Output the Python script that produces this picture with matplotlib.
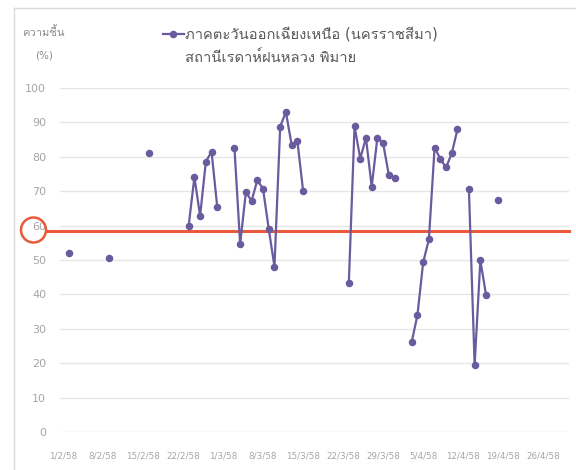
import numpy as np
import pandas as pd
import matplotlib
matplotlib.use('Agg')
import matplotlib.pyplot as plt
from matplotlib import font_manager
from matplotlib.ft2font import FT2Font
from matplotlib.lines import Line2D
from matplotlib.patches import Ellipse


def find_thai_font():
    """ cherche une police installée qui contient les caractères thaï """
    for f in font_manager.fontManager.ttflist:
        try:
            if FT2Font(f.fname).get_char_index(ord('ก')):
                return f.name
        except Exception:
            continue
    return None


thai = find_thai_font()
families = ['DejaVu Sans'] + ([thai] if thai else [])
plt.rcParams['font.family'] = families

# Données : humidité relative (%) par jour, station Phimai
obs_dates = ['2/2/58', '9/2/58', '16/2/58',
             '23/2/58', '24/2/58', '25/2/58', '26/2/58', '27/2/58', '28/2/58',
             '3/3/58', '4/3/58', '5/3/58', '6/3/58', '7/3/58', '8/3/58', '9/3/58',
             '10/3/58', '11/3/58', '12/3/58', '13/3/58', '14/3/58', '15/3/58',
             '23/3/58', '24/3/58', '25/3/58', '26/3/58', '27/3/58', '28/3/58',
             '29/3/58', '30/3/58', '31/3/58',
             '3/4/58', '4/4/58', '5/4/58', '6/4/58', '7/4/58', '8/4/58', '9/4/58',
             '10/4/58', '11/4/58',
             '13/4/58', '14/4/58', '15/4/58', '16/4/58',
             '18/4/58']
humidity = [52.0, 50.5, 81.0,
            60.0, 74.1, 62.8, 78.6, 81.5, 65.3,
            82.6, 54.7, 69.7, 67.2, 73.2, 70.7, 59.0,
            48.1, 88.8, 93.0, 83.5, 84.7, 70.2,
            43.2, 88.9, 79.5, 85.5, 71.3, 85.6,
            83.9, 74.7, 73.7,
            26.2, 34.0, 49.3, 56.0, 82.7, 79.4, 76.9,
            81.0, 88.0,
            70.5, 19.5, 49.9, 39.8,
            67.4]
threshold = 58.5

tick_labels = ['1/2/58', '8/2/58', '15/2/58', '22/2/58', '1/3/58', '8/3/58',
               '15/3/58', '22/3/58', '29/3/58', '5/4/58', '12/4/58', '19/4/58',
               '26/4/58']
first_day, last_day = '1/2/58', '30/4/58'
y_ticks = [0, 10, 20, 30, 40, 50, 60, 70, 80, 90, 100]

series_label = 'ภาคตะวันออกเฉียงเหนือ (นครราชสีมา)'
station_label = 'สถานีเรดาห์ฝนหลวง พิมาย'
y_label = 'ความชื้น'
y_unit = '(%)'


def to_date(s):
    # année bouddhiste 2558 -> 2015
    d, m, y = s.split('/')
    return pd.Timestamp(year=int(y) + 2500 - 543, month=int(m), day=int(d))


# série journalière, les jours manquants restent NaN (coupures de la courbe)
s = pd.Series(humidity, index=[to_date(d) for d in obs_dates])
days = pd.date_range(to_date(first_day), to_date(last_day), freq='D')
s = s.reindex(days)

purple = '#6A5A9E'
grey_txt = '#A6A6A6'
red = '#E85A3A'

fig = plt.figure(figsize=(5.76, 4.70), dpi=100)
fig.patch.set_facecolor('white')
ax = fig.add_axes([60 / 576, 38 / 470, 509 / 576, 344 / 470])

ax.plot(s.index, s.values, color=purple, lw=1.6, marker='o', ms=4.4,
        mec=purple, mfc=purple, zorder=3)

ax.set_ylim(0, 100)
ax.set_yticks(y_ticks)
ax.set_xlim(days[0] - pd.Timedelta(hours=12), days[-1] + pd.Timedelta(hours=12))
ax.set_xticks([to_date(t) for t in tick_labels])
ax.set_xticklabels(tick_labels)
ax.grid(axis='y', color='#E6E6E6', lw=1.0)
ax.set_axisbelow(True)
for sp in ax.spines.values():
    sp.set_visible(False)
ax.tick_params(axis='both', length=0, colors=grey_txt)
ax.tick_params(axis='y', labelsize=8, pad=10)
ax.tick_params(axis='x', labelsize=6.3, pad=14)

# ligne de seuil rouge
ax.axhline(threshold, xmin=-0.024, xmax=1.0, color=red, lw=2.2,
           clip_on=False, zorder=2)
# cercle autour du 60
fig.add_artist(Ellipse((33.5 / 576, 1 - 230 / 470), 25 / 576, 25 / 470,
                       fill=False, ec=red, lw=1.8, transform=fig.transFigure))

# cadre du graphique
fig.add_artist(Line2D([14 / 576, 14 / 576], [0, 1 - 8 / 470], color='#DADADA',
                      lw=1.0, transform=fig.transFigure))
fig.add_artist(Line2D([14 / 576, 1], [1 - 8 / 470, 1 - 8 / 470], color='#DADADA',
                      lw=1.0, transform=fig.transFigure))

# légende
ly = 1 - 34 / 470
fig.add_artist(Line2D([163 / 576, 184 / 576], [ly, ly], color=purple, lw=1.6,
                      transform=fig.transFigure))
fig.add_artist(Line2D([173 / 576], [ly], color=purple, marker='o', ms=4.4,
                      transform=fig.transFigure))
fig.text(185 / 576, ly, series_label, fontsize=10.6, color='#5A5A5A',
         va='center', ha='left')
fig.text(185 / 576, 1 - 58 / 470, station_label, fontsize=10.6, color='#5A5A5A',
         va='center', ha='left')

# titre de l'axe y
fig.text(43 / 576, 1 - 32 / 470, y_label, fontsize=8, color='#8C8C8C',
         ha='center', va='center')
fig.text(44 / 576, 1 - 55 / 470, y_unit, fontsize=7.5, color='#8C8C8C',
         ha='center', va='center')

fig.savefig('out.png', dpi=100, facecolor='white')
